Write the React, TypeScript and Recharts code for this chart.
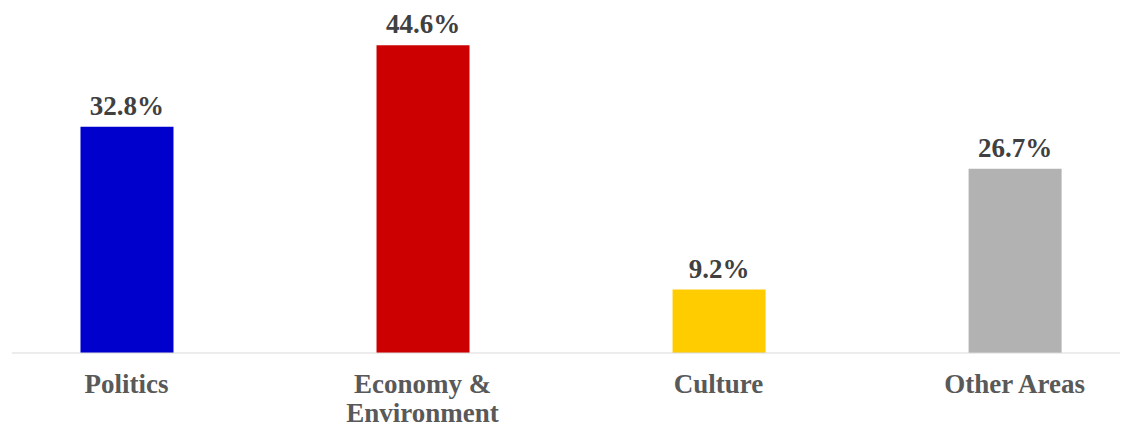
import { BarChart, Bar, XAxis, YAxis, Cell, LabelList } from 'recharts';

const categories = ['Politics', 'Economy & Environment', 'Culture', 'Other Areas'];
const tickLines = [['Politics'], ['Economy &', 'Environment'], ['Culture'], ['Other Areas']];
const shares = [32.8, 44.6, 9.2, 26.7];
const barColors = ['#0000CC', '#CC0000', '#FFCC00', '#B2B2B2'];

const FONT = "'Liberation Serif', 'Times New Roman', serif";

const data = categories.map((name, i) => ({ pos: i, name, value: shares[i] }));

function CategoryTick(props: any) {
  const { x, y, payload } = props;
  const lines = tickLines[payload.value] || [];
  return (
    <text
      x={x}
      y={y}
      textAnchor="middle"
      fill="#595959"
      fontFamily={FONT}
      fontWeight="bold"
      fontSize={27}
    >
      {lines.map((line, i) => (
        <tspan key={i} x={x} dy={i === 0 ? 32 : 29}>
          {line}
        </tspan>
      ))}
    </text>
  );
}

export default function App() {
  return (
    <div style={{ position: 'absolute', left: 0, top: 0, background: '#fff' }}>
      <BarChart
        width={1123}
        height={426}
        data={data}
        margin={{ top: 8, right: 3, left: 12, bottom: 0 }}
      >
        <XAxis
          dataKey="pos"
          type="number"
          domain={[-0.3868, 3.356]}
          ticks={[0, 1, 2, 3]}
          allowDataOverflow
          stroke="#D9D9D9"
          tickLine={false}
          tick={<CategoryTick />}
          height={73}
        />
        <YAxis hide domain={[0, 50]} />
        <Bar dataKey="value" barSize={93} isAnimationActive={false}>
          {data.map((d, i) => (
            <Cell key={d.name} fill={barColors[i]} />
          ))}
          <LabelList
            dataKey="value"
            position="top"
            offset={12}
            formatter={(v: any) => `${Number(v).toFixed(1)}%`}
            fill="#404040"
            fontFamily={FONT}
            fontWeight="bold"
            fontSize={27}
          />
        </Bar>
      </BarChart>
    </div>
  );
}
